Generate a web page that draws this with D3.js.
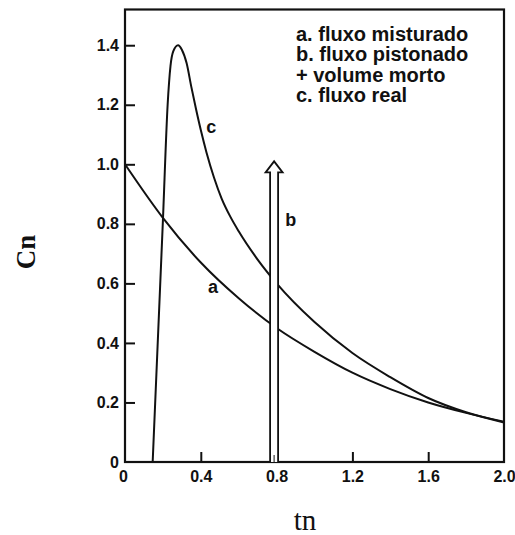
<!DOCTYPE html>
<html>
<head>
<meta charset="utf-8">
<script src="https://cdn.jsdelivr.net/npm/d3@7"></script>
<style>
  html, body { margin: 0; padding: 0; background: #fff; }
  svg { display: block; }
</style>
</head>
<body>
<svg id="chart" width="515" height="535"></svg>
<script>
// ---- data ----
const xTicks = [0, 0.4, 0.8, 1.2, 1.6, 2.0];
const xTickLabels = ["0", "0.4", "0.8", "1.2", "1.6", "2.0"];
const yTicks = [0, 0.2, 0.4, 0.6, 0.8, 1.0, 1.2, 1.4];
const yTickLabels = ["0", "0.2", "0.4", "0.6", "0.8", "1.0", "1.2", "1.4"];

// a. fluxo misturado
const curveA_t = [0, 0.2, 0.4, 0.6, 0.8, 1.0, 1.2, 1.4, 1.6, 1.8, 2.0];
const curveA_c = [1.0, 0.82, 0.67, 0.55, 0.45, 0.37, 0.30, 0.245, 0.20, 0.165, 0.135];

// c. fluxo real
const curveC_t = [0.146, 0.20, 0.225, 0.24, 0.255, 0.28, 0.30, 0.325, 0.35, 0.375, 0.40, 0.43, 0.47, 0.51, 0.555, 0.60, 0.70, 0.80, 1.0, 1.2, 1.4, 1.6, 1.8, 2.0];
const curveC_c = [0.0, 0.81, 1.20, 1.33, 1.38, 1.40, 1.385, 1.34, 1.26, 1.185, 1.115, 1.04, 0.955, 0.885, 0.825, 0.775, 0.68, 0.60, 0.47, 0.366, 0.285, 0.215, 0.167, 0.133];

// b. fluxo pistonado + volume morto (impulse at tn = 0.8)
const curveB_t = [0.8];
const curveB_top = [1.01];

const legendLines = ["a. fluxo misturado", "b. fluxo pistonado", "+ volume morto", "c. fluxo real"];
const curveLabels = ["a", "b", "c"];
const curveLabelPos_t = [0.465, 0.875, 0.455];
const curveLabelPos_c = [0.585, 0.81, 1.12];
const xTitle = "tn";
const yTitle = "Cn";

// ---- drawing ----
const svg = d3.select("#chart");
const x = d3.scaleLinear().domain([0, 2.0]).range([125, 504]);
const y = d3.scaleLinear().domain([0, 1.52]).range([462, 9.5]);
const ink = "#111";

// axes (ticks inward)
const xAxis = d3.axisBottom(x).tickValues(xTicks).tickSize(-10).tickPadding(9)
  .tickFormat((d, i) => xTickLabels[i]);
const yAxis = d3.axisLeft(y).tickValues(yTicks).tickSize(-10).tickPadding(6)
  .tickFormat((d, i) => yTickLabels[i]);

const gx = svg.append("g").attr("transform", `translate(0,${y(0)})`).call(xAxis);
const gy = svg.append("g").attr("transform", `translate(${x(0)},0)`).call(yAxis);
[gx, gy].forEach(g => {
  g.select(".domain").remove();
  g.selectAll(".tick line").attr("stroke", ink).attr("stroke-width", 2);
  g.selectAll(".tick text")
    .attr("fill", ink)
    .style("font-family", "'Liberation Sans', Arial, sans-serif")
    .style("font-weight", "bold")
    .style("font-size", "16px");
});
// hide tick marks at the corners
gx.selectAll(".tick").filter(d => d === 0 || d === 2.0).select("line").remove();
gy.selectAll(".tick").filter(d => d === 0).select("line").remove();
gx.selectAll(".tick").filter(d => d === 0).select("text").attr("dx", "-2");

// frame
svg.append("rect")
  .attr("x", x(0)).attr("y", y.range()[1])
  .attr("width", x(2.0) - x(0)).attr("height", y(0) - y.range()[1])
  .attr("fill", "none").attr("stroke", ink).attr("stroke-width", 2.2);

const line = d3.line().x(d => x(d[0])).y(d => y(d[1])).curve(d3.curveMonotoneX);

// curve a
svg.append("path")
  .datum(curveA_t.map((t, i) => [t, curveA_c[i]]))
  .attr("d", line).attr("fill", "none").attr("stroke", ink).attr("stroke-width", 2);

// curve c
svg.append("path")
  .datum(curveC_t.map((t, i) => [t, curveC_c[i]]))
  .attr("d", line).attr("fill", "none").attr("stroke", ink).attr("stroke-width", 2);

// curve b: hollow arrow
curveB_t.forEach((t, i) => {
  const cx = x(t) - 2.5;
  const tipY = y(curveB_top[i]);
  const baseY = tipY + 11;
  const hw = 4, hh = 8.5;
  const pts = [
    [cx - hw, y(0)], [cx - hw, baseY], [cx - hh, baseY], [cx, tipY],
    [cx + hh, baseY], [cx + hw, baseY], [cx + hw, y(0)]
  ];
  svg.append("path")
    .attr("d", d3.line()(pts))
    .attr("fill", "#fff").attr("stroke", ink).attr("stroke-width", 1.8)
    .attr("stroke-linejoin", "miter");
  svg.append("line")
    .attr("x1", cx).attr("x2", cx).attr("y1", y(0) - 7).attr("y2", y(0))
    .attr("stroke", ink).attr("stroke-width", 1);
});

// curve labels
svg.selectAll("text.clabel").data(curveLabels).enter().append("text")
  .attr("class", "clabel")
  .attr("x", (d, i) => x(curveLabelPos_t[i]))
  .attr("y", (d, i) => y(curveLabelPos_c[i]))
  .attr("text-anchor", "middle")
  .attr("dominant-baseline", "middle")
  .attr("fill", ink)
  .style("font-family", "'Liberation Sans', Arial, sans-serif")
  .style("font-weight", "bold")
  .style("font-size", "18px")
  .text(d => d);

// legend text
svg.selectAll("text.legend").data(legendLines).enter().append("text")
  .attr("class", "legend")
  .attr("x", 296)
  .attr("y", (d, i) => 41 + i * 20.4)
  .attr("fill", ink)
  .style("font-family", "'Liberation Sans', Arial, sans-serif")
  .style("font-weight", "bold")
  .style("font-size", "20px")
  .text(d => d);

// axis titles
svg.append("text")
  .attr("x", 305).attr("y", 530)
  .attr("text-anchor", "middle")
  .attr("fill", ink)
  .style("font-family", "'Liberation Serif', 'Times New Roman', serif")
  .style("font-size", "29px")
  .text(xTitle);

svg.append("text")
  .attr("transform", "translate(35,252) rotate(-90)")
  .attr("text-anchor", "middle")
  .attr("fill", ink)
  .style("font-family", "'Liberation Serif', 'Times New Roman', serif")
  .style("font-weight", "bold")
  .style("font-size", "27px")
  .text(yTitle);
</script>
</body>
</html>
